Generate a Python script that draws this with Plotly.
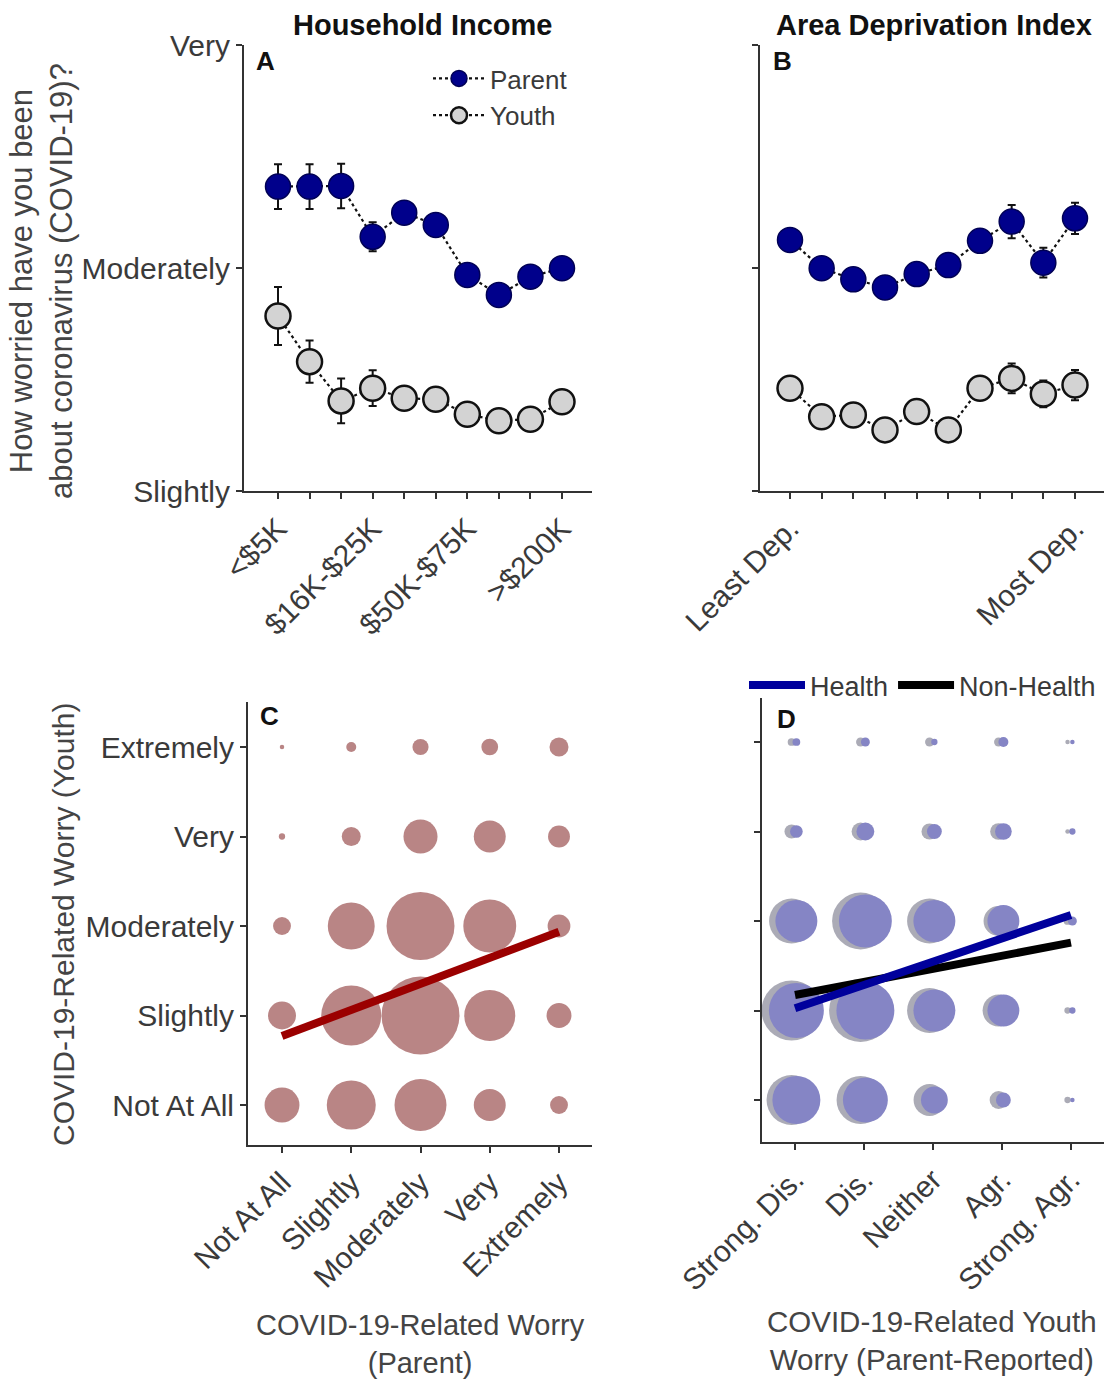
import plotly.graph_objects as go

W, H = 1104, 1384
FONT = "Liberation Sans, Arial, Helvetica, sans-serif"
TXT = "#3a3a3a"
AX = "#333333"

# ---------------- Panel A: household income ----------------
income_labels = ["<$5K", "", "", "$16K-$25K", "", "", "$50K-$75K", "", "", ">$200K"]
income_parent = [3.365, 3.365, 3.368, 3.14, 3.248, 3.193, 2.969, 2.879, 2.961, 2.999]
income_parent_err = [0.10, 0.10, 0.10, 0.065, 0.045, 0.045, 0.045, 0.045, 0.045, 0.045]
income_youth = [2.785, 2.58, 2.404, 2.461, 2.416, 2.411, 2.344, 2.315, 2.322, 2.40]
income_youth_err = [0.13, 0.095, 0.10, 0.08, 0.045, 0.045, 0.045, 0.045, 0.045, 0.045]

# ---------------- Panel B: area deprivation index ----------------
adi_labels = ["Least Dep.", "", "", "", "", "", "", "", "", "Most Dep."]
adi_parent = [3.126, 2.999, 2.949, 2.913, 2.973, 3.013, 3.122, 3.208, 3.024, 3.223]
adi_parent_err = [0.045, 0.045, 0.045, 0.045, 0.045, 0.045, 0.05, 0.075, 0.067, 0.07]
adi_youth = [2.461, 2.333, 2.341, 2.274, 2.356, 2.274, 2.461, 2.505, 2.435, 2.475]
adi_youth_err = [0.045, 0.045, 0.045, 0.045, 0.045, 0.045, 0.05, 0.067, 0.06, 0.068]

worry_y_labels = ["Slightly", "Moderately", "Very"]
worry_y_vals = [2, 3, 4]

# ---------------- Panel C: parent vs youth worry ----------------
worry_levels = ["Not At All", "Slightly", "Moderately", "Very", "Extremely"]
# rows: youth worry 1..5 ; columns: parent worry 1..5 (participant counts)
c_counts = [
    [61, 120, 135, 51, 16],
    [39, 180, 304, 130, 31],
    [16, 110, 231, 140, 26],
    [2, 18, 58, 51, 24],
    [1, 5, 13, 14, 18],
]
c_fit_x = [1, 5]
c_fit_y = [1.771, 2.936]

# ---------------- Panel D: parent-reported youth worry ----------------
agree_levels = ["Strong. Dis.", "Dis.", "Neither", "Agr.", "Strong. Agr."]
d_counts_nonhealth = [
    [125, 115, 51, 16, 2],
    [180, 198, 101, 51, 2],
    [101, 162, 101, 45, 3],
    [10, 16, 13, 14, 1],
    [3, 4, 4, 4, 1],
]
d_counts_health = [
    [115, 101, 36, 11, 1],
    [151, 168, 88, 51, 2],
    [88, 140, 88, 51, 4],
    [8, 16, 11, 14, 2],
    [3, 4, 2, 5, 1],
]
d_fit_x = [1, 5]
d_fit_health = [2.025, 3.067]
d_fit_nonhealth = [2.173, 2.758]


def px_x(p):
    return p / W


def px_y(p):
    return 1 - p / H


fig = go.Figure()

# Panel A
for vals, errs, name, fill, edge, ew in [
    (income_parent, income_parent_err, "Parent", "#00008B", "#000055", 1.5),
    (income_youth, income_youth_err, "Youth", "#D3D3D3", "#111111", 2.5),
]:
    fig.add_trace(go.Scatter(
        x=list(range(len(vals))), y=vals, name=name, mode="lines+markers",
        xaxis="x", yaxis="y", legend="legend",
        line=dict(color="#111111", width=2.2, dash="dot"),
        marker=dict(size=25, color=fill, line=dict(color=edge, width=ew)),
        error_y=dict(type="data", array=errs, visible=True, color="#111111", thickness=2, width=4),
    ))

# Panel B
for vals, errs, fill, edge, ew in [
    (adi_parent, adi_parent_err, "#00008B", "#000055", 1.5),
    (adi_youth, adi_youth_err, "#D3D3D3", "#111111", 2.5),
]:
    fig.add_trace(go.Scatter(
        x=list(range(len(vals))), y=vals, mode="lines+markers", showlegend=False,
        xaxis="x2", yaxis="y2",
        line=dict(color="#111111", width=2.2, dash="dot"),
        marker=dict(size=25, color=fill, line=dict(color=edge, width=ew)),
        error_y=dict(type="data", array=errs, visible=True, color="#111111", thickness=2, width=4),
    ))

SIZEREF = 0.1

# Panel C bubbles
cx, cy, cs = [], [], []
for yi, row in enumerate(c_counts):
    for xi, n in enumerate(row):
        cx.append(xi + 1)
        cy.append(yi + 1)
        cs.append(n)
fig.add_trace(go.Scatter(
    x=cx, y=cy, mode="markers", showlegend=False, xaxis="x3", yaxis="y3",
    marker=dict(size=cs, sizemode="area", sizeref=SIZEREF, sizemin=0, opacity=1,
                color="#B98585", line=dict(width=0)),
))
fig.add_trace(go.Scatter(
    x=c_fit_x, y=c_fit_y, mode="lines", showlegend=False, xaxis="x3", yaxis="y3",
    line=dict(color="#9B0000", width=8),
))

# Panel D bubbles
for counts, color, off in [
    (d_counts_nonhealth, "#ABABB6", -0.05),
    (d_counts_health, "#8585C5", 0.02),
]:
    dx, dy, ds = [], [], []
    for yi, row in enumerate(counts):
        for xi, n in enumerate(row):
            dx.append(xi + 1 + off)
            dy.append(yi + 1)
            ds.append(n)
    fig.add_trace(go.Scatter(
        x=dx, y=dy, mode="markers", showlegend=False, xaxis="x4", yaxis="y4",
        marker=dict(size=ds, sizemode="area", sizeref=SIZEREF, sizemin=0, opacity=1,
                    color=color, line=dict(width=0)),
    ))

fig.add_trace(go.Scatter(
    x=d_fit_x, y=d_fit_nonhealth, mode="lines", name="Non-Health", legend="legend2",
    legendrank=2, xaxis="x4", yaxis="y4", line=dict(color="#000000", width=8),
))
fig.add_trace(go.Scatter(
    x=d_fit_x, y=d_fit_health, mode="lines", name="Health", legend="legend2",
    legendrank=1, xaxis="x4", yaxis="y4", line=dict(color="#00009C", width=8),
))

axis_common = dict(
    showline=True, linecolor=AX, linewidth=2, ticks="outside", ticklen=6,
    tickwidth=2, tickcolor=AX, showgrid=False, zeroline=False,
    tickfont=dict(family=FONT, size=30, color=TXT), automargin=False,
)

# domains in pixel space
A_x = [244, 592]
B_x = [760, 1104]
AB_y = [45, 491]
C_x = [248, 592]
C_y = [702, 1145]
D_x = [762, 1104]
D_y = [698, 1142]

fig.update_layout(
    width=W, height=H, margin=dict(l=0, r=0, t=0, b=0),
    paper_bgcolor="white", plot_bgcolor="rgba(0,0,0,0)",
    font=dict(family=FONT, color=TXT),
    xaxis=dict(axis_common, domain=[px_x(A_x[0]), px_x(A_x[1])], anchor="y",
               range=[-(278 - 244) / 31.55, 9 + (592 - 562) / 31.55],
               tickmode="array", tickvals=list(range(10)), ticktext=income_labels,
               tickangle=-45),
    yaxis=dict(axis_common, domain=[px_y(AB_y[1]), px_y(AB_y[0])], anchor="x",
               range=[2, 4], tickmode="array", tickvals=worry_y_vals,
               ticktext=worry_y_labels),
    xaxis2=dict(axis_common, domain=[px_x(B_x[0]), px_x(B_x[1])], anchor="y2",
                range=[-(790 - 760) / 31.67, 9 + (1104 - 1075) / 31.67],
                tickmode="array", tickvals=list(range(10)), ticktext=adi_labels,
                tickangle=-45),
    yaxis2=dict(axis_common, domain=[px_y(AB_y[1]), px_y(AB_y[0])], anchor="x2",
                range=[2, 4], tickmode="array", tickvals=worry_y_vals,
                showticklabels=False),
    xaxis3=dict(axis_common, domain=[px_x(C_x[0]), px_x(C_x[1])], anchor="y3",
                range=[1 - (282 - 248) / 69.25, 5 + (592 - 559) / 69.25],
                tickmode="array", tickvals=[1, 2, 3, 4, 5], ticktext=worry_levels,
                tickangle=-45),
    yaxis3=dict(axis_common, domain=[px_y(C_y[1]), px_y(C_y[0])], anchor="x3",
                range=[1 - (1145 - 1105) / 89.5, 5 + (747 - 702) / 89.5],
                tickmode="array", tickvals=[1, 2, 3, 4, 5], ticktext=worry_levels),
    xaxis4=dict(axis_common, domain=[px_x(D_x[0]), px_x(D_x[1])], anchor="y4",
                range=[1 - (795 - 762) / 69.0, 5 + (1104 - 1071) / 69.0],
                tickmode="array", tickvals=[1, 2, 3, 4, 5], ticktext=agree_levels,
                tickangle=-45),
    yaxis4=dict(axis_common, domain=[px_y(D_y[1]), px_y(D_y[0])], anchor="x4",
                range=[1 - (1142 - 1100) / 89.5, 5 + (742 - 698) / 89.5],
                tickmode="array", tickvals=[1, 2, 3, 4, 5], showticklabels=False),
    legend=dict(x=px_x(428), y=px_y(55), xanchor="left", yanchor="top",
                bgcolor="rgba(0,0,0,0)", borderwidth=0, itemwidth=52,
                font=dict(family=FONT, size=26, color=TXT), tracegroupgap=0),
    legend2=dict(x=px_x(744), y=px_y(661), xanchor="left", yanchor="top",
                 orientation="h", bgcolor="rgba(0,0,0,0)", borderwidth=0,
                 itemwidth=56, font=dict(family=FONT, size=27, color=TXT),
                 traceorder="normal"),
)

annotations = [
    dict(text="<b>Household Income</b>", x=px_x(422), y=px_y(25), size=29, color="#111111"),
    dict(text="<b>Area Deprivation Index</b>", x=px_x(934), y=px_y(25), size=29, color="#111111"),
    dict(text="<b>A</b>", x=px_x(265), y=px_y(61), size=26, color="#111111"),
    dict(text="<b>B</b>", x=px_x(782), y=px_y(61), size=26, color="#111111"),
    dict(text="<b>C</b>", x=px_x(269), y=px_y(716), size=26, color="#111111"),
    dict(text="<b>D</b>", x=px_x(786), y=px_y(719), size=26, color="#111111"),
    dict(text="How worried have you been<br>about coronavirus (COVID-19)?", x=px_x(42),
         y=px_y(281), size=31, color="#444444", angle=-90),
    dict(text="COVID-19-Related Worry (Youth)", x=px_x(63), y=px_y(924), size=30,
         color="#444444", angle=-90),
    dict(text="COVID-19-Related Worry<br>(Parent)", x=px_x(421), y=px_y(1344), size=29,
         color="#444444"),
    dict(text="COVID-19-Related Youth<br>Worry (Parent-Reported)", x=px_x(932), y=px_y(1340),
         size=29.5, color="#444444"),
]
for a in annotations:
    fig.add_annotation(
        text=a["text"], x=a["x"], y=a["y"], xref="paper", yref="paper",
        xanchor="center", yanchor="middle", showarrow=False,
        textangle=a.get("angle", 0),
        font=dict(family=FONT, size=a["size"], color=a["color"]),
    )

fig.write_html("out.html")
